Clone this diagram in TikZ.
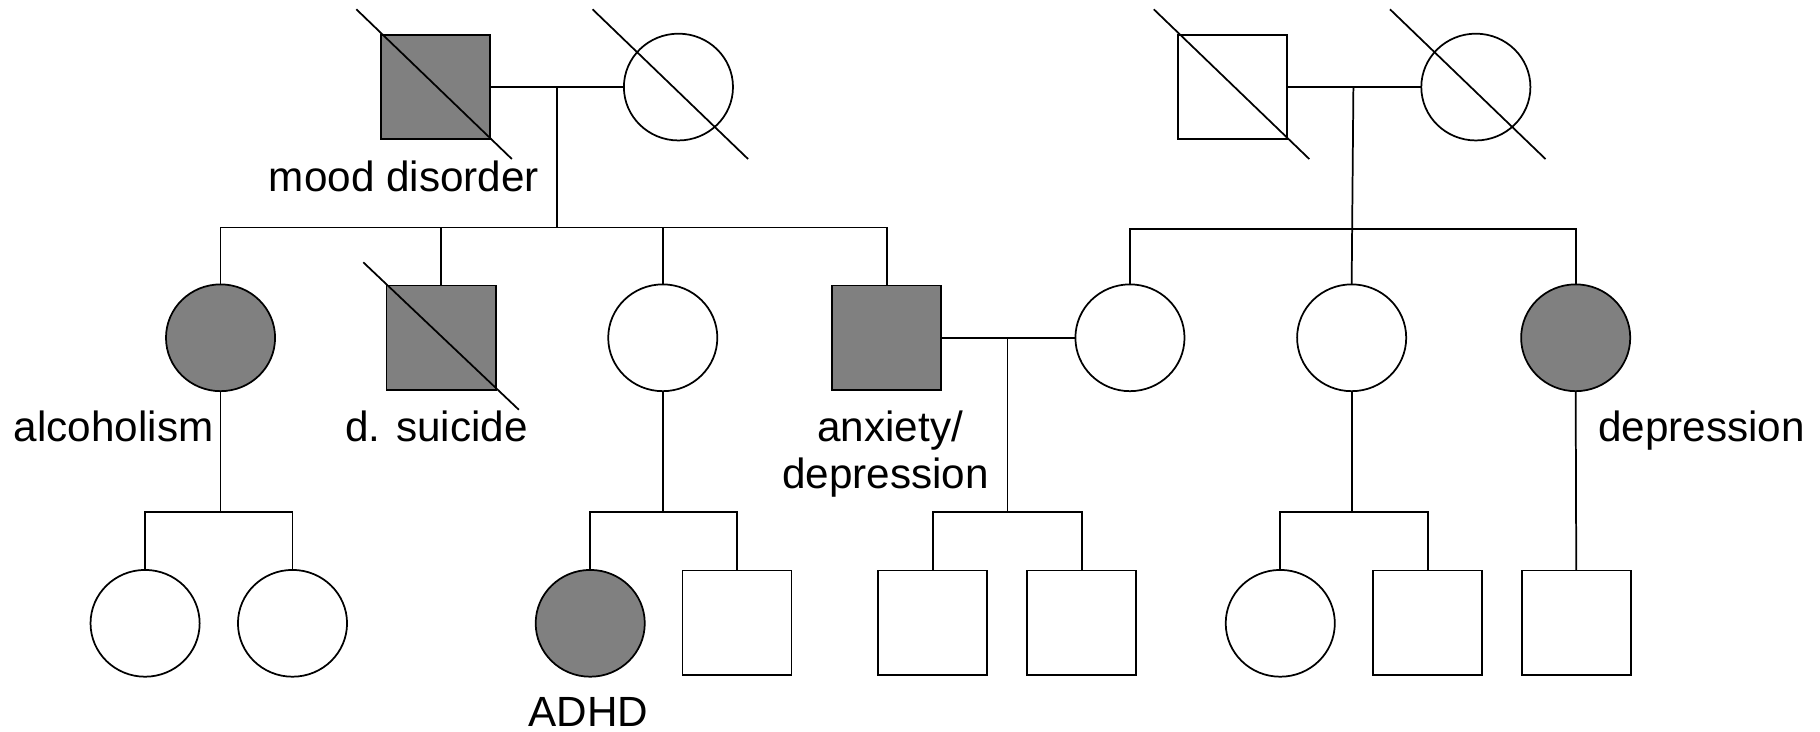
\documentclass[tikz,border=0pt]{standalone}
\usepackage{fontspec}
\setmainfont{Liberation Sans}
\usetikzlibrary{shapes.geometric}
\definecolor{aff}{HTML}{808080}
\begin{document}
\begin{tikzpicture}[x=1pt,y=-1pt, line width=1.5pt,
  male/.style={draw, rectangle, minimum width=94pt, minimum height=90pt, inner sep=0pt, outer sep=0pt},
  female/.style={draw, ellipse, minimum width=94pt, minimum height=92pt, inner sep=0pt, outer sep=0pt},
  affected/.style={fill=aff},
  lbl/.style={font=\fontsize{36.4}{42}\selectfont, anchor=base, inner sep=0pt},
  link/.style={line width=1.5pt}]
\useasboundingbox (0,0) rectangle (1568,630);
% generation I
\node[male,affected] (gf1) at (375,75) {};
\node[female] (gm1) at (584.5,75) {};
\node[male] (gf2) at (1062,75) {};
\node[female] (gm2) at (1271.5,75) {};
% generation II
\node[female,affected] (a1) at (190,291) {};
\node[male,affected] (a2) at (380,291) {};
\node[female] (a3) at (571,291) {};
\node[male,affected] (a4) at (764,291) {};
\node[female] (b1) at (973.5,291) {};
\node[female] (b2) at (1164.5,291) {};
\node[female,affected] (b3) at (1357.5,291) {};
% generation III
\node[female] (c1) at (125,537) {};
\node[female] (c2) at (252,537) {};
\node[female,affected] (c3) at (508.5,537) {};
\node[male] (c4) at (635,536.5) {};
\node[male] (c5) at (803.5,536.5) {};
\node[male] (c6) at (932,536.5) {};
\node[female] (c7) at (1103,537) {};
\node[male] (c8) at (1230,536.5) {};
\node[male] (c9) at (1358,536.5) {};
% helper coordinates
\coordinate (m1) at (480,75);
\coordinate (s1) at (480,196);
\coordinate (m2) at (1166,75);
\coordinate (s2) at (1166,197);
\coordinate (m3) at (868,291);
\coordinate (s3) at (868,441);
\coordinate (s4) at (190,441);
% connectors
\draw[link] (gf1.east) -- (gm1.west);
\draw[link] (gf2.east) -- (gm2.west);
\draw[link] (m1) -- (s1);
\draw[link] (a1.north) |- (a4.north |- s1) -- (a4.north);
\draw[link] (a2.north) -- (a2.north |- s1);
\draw[link] (a3.north) -- (a3.north |- s1);
\draw[link] (m2) -- (b2.north);
\draw[link] (b1.north) |- (b3.north |- s2) -- (b3.north);
\draw[link] (a4.east) -- (b1.west);
\draw[link] (m3) -- (s3);
\draw[link] (c5.north) |- (c6.north |- s3) -- (c6.north);
\draw[link] (a1.south) -- (s4);
\draw[link] (c1.north) |- (c2.north |- s4) -- (c2.north);
\draw[link] (a3.south) -- (a3.south |- s3);
\draw[link] (c3.north) |- (c4.north |- s3) -- (c4.north);
\draw[link] (b2.south) -- (b2.south |- s3);
\draw[link] (c7.north) |- (c8.north |- s3) -- (c8.north);
\draw[link] (b3.south) -- (c9.north);
% deceased marks
\draw[link] ([shift={(-68,-67)}]gf1.center) -- ([shift={(66,62)}]gf1.center);
\draw[link] ([shift={(-74,-67)}]gm1.center) -- ([shift={(60,62)}]gm1.center);
\draw[link] ([shift={(-68,-67)}]gf2.center) -- ([shift={(66,62)}]gf2.center);
\draw[link] ([shift={(-74,-67)}]gm2.center) -- ([shift={(60,62)}]gm2.center);
\draw[link] ([shift={(-67,-65)}]a2.center) -- ([shift={(67,62)}]a2.center);
% labels
\node[lbl] (l1) at (348,165) {mood disorder};
\node[lbl] (l2) at (98,380) {alcoholism};
\node[lbl] (l3) at (376,380) {d. suicide};
\node[lbl] (l4) at (767,380) {anxiety/};
\node[lbl] (l5) at (763,421) {depression};
\node[lbl] (l6) at (1466,380) {depression};
\node[lbl] (l7) at (507,626) {ADHD};
\end{tikzpicture}
\end{document}
